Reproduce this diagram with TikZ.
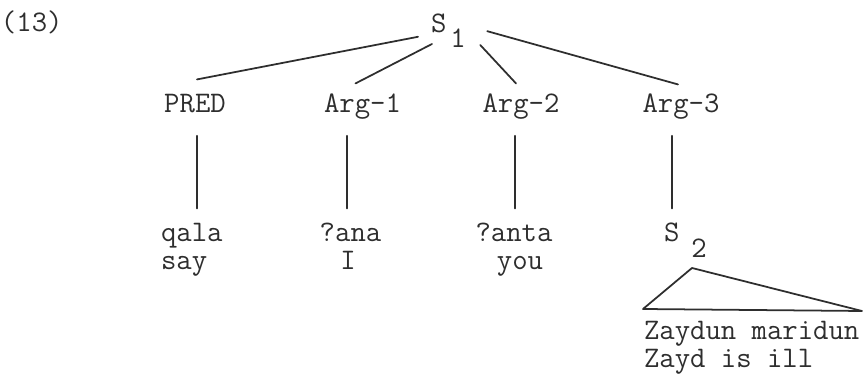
\documentclass[tikz,border=0pt]{standalone}
\usepackage{fontspec}
\usetikzlibrary{calc}
\definecolor{ink}{HTML}{2E2E2E}

\begin{document}
\begin{tikzpicture}[x=0.02cm,y=-0.02cm,
    lab/.style={font=\fontsize{17}{20}\selectfont\ttfamily\addfontfeatures{FakeBold=0.5},text=ink,inner sep=0pt,outer xsep=0pt,outer ysep=0.32cm,text height=10pt,text depth=3pt,anchor=base},
    branch/.style={draw=ink,line width=1pt,line cap=round}]
  \useasboundingbox (0,0) rectangle (866,374);
  % example number and root
  \node[lab,anchor=base west,outer ysep=0pt] (num) at (1,32) {(13)};
  \node[lab,anchor=base west,outer ysep=0pt,text height=,text depth=] (s1) at (431,33) {S\hspace{0.08cm}\raisebox{-0.3cm}{1}};
  % first level
  \node[lab] (pred) at (195,113) {PRED};
  \node[lab] (arg1) at (362.5,113) {Arg-1};
  \node[lab] (arg2) at (521,113) {Arg-2};
  \node[lab] (arg3) at (681,113) {Arg-3};
  % second level
  \node[lab,anchor=base west] (qala) at (161,242) {qala};
  \node[lab,anchor=base west] (say) at (161,270) {say};
  \node[lab] (ana) at (350.5,242) {?ana};
  \node[lab] (ana-en) at (348,270) {I};
  \node[lab] (anta) at (514,242) {?anta};
  \node[lab] (anta-en) at (520,270) {you};
  \node[lab,anchor=base west] (s2) at (664,242) {S\hspace{0.24cm}\raisebox{-0.32cm}{2}};
  \node[lab,anchor=base west] (zayd) at (644,340) {Zaydun maridun};
  \node[lab,anchor=base west] (zayd-en) at (644,368) {Zayd is ill};
  % branches from S1
  \draw[branch] ([shift={(-13,5.6)}]s1.west) -- ([shift={(2,0)}]pred.north);
  \draw[branch] ([shift={(1,-4)}]s1.south west) -- ([shift={(-7,4)}]arg1.north);
  \draw[branch] ([shift={(14.5,-3)}]s1.south east) -- ([shift={(-5,4)}]arg2.north);
  \draw[branch] ([shift={(21.5,0)}]s1.east) -- ([shift={(-3,5)}]arg3.north);
  % vertical branches
  \foreach \a/\b/\dx in {pred/qala/2,arg1/ana/-15.5,arg2/anta/-6,arg3/s2/-9}
    \draw[branch] ($(\a.south)+(\dx,1.5)$) -- ($(\a.south |- \b.north)+(\dx,0)$);
  % triangle under S2
  \draw[branch,line join=round] (692,268) -- (643,309) -- (862,311) -- cycle;
\end{tikzpicture}
\end{document}
